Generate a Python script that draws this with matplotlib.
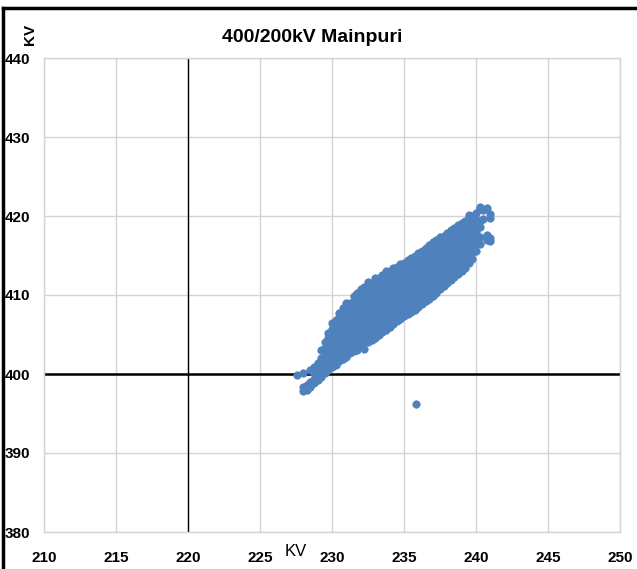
import matplotlib
matplotlib.use("Agg")
import matplotlib.pyplot as plt
from matplotlib.lines import Line2D

plt.rcParams['font.family'] = ['Liberation Sans Narrow', 'Liberation Sans', 'DejaVu Sans']

# Nube de puntos: tension 220 kV (x) vs tension 400 kV (y), leida por columnas
columnas = {
    227.6: [399.9],
    228.0: [397.8, 398.3, 400.1],
    228.25: [398.0, 398.6],
    228.5: [398.4, 399.0, 400.5],
    228.75: [398.8, 399.4, 400.1, 400.9],
    229.0: [399.2, 399.9, 400.7, 401.4],
    229.25: [399.6, 400.4, 401.2, 402.0, 403.1],
    229.5: [400.1, 400.9, 401.7, 402.5, 403.3, 404.0],
    229.75: [400.5, 401.3, 402.1, 402.9, 403.7, 404.5, 405.2],
    230.0: [400.9, 401.7, 402.5, 403.3, 404.1, 404.9, 405.7, 406.5],
    230.25: [401.2, 402.0, 402.8, 403.6, 404.4, 405.2, 406.0, 406.8],
    230.5: [401.6, 402.4, 403.2, 404.0, 404.8, 405.6, 406.4, 407.2, 407.7],
    230.75: [401.9, 402.7, 403.5, 404.3, 405.1, 405.9, 406.7, 407.5, 408.4],
    231.0: [402.2, 403.0, 403.8, 404.6, 405.4, 406.2, 407.0, 407.8, 408.6, 409.0],
    231.25: [402.6, 403.4, 404.2, 405.0, 405.8, 406.6, 407.4, 408.2, 409.0],
    231.5: [402.9, 403.7, 404.5, 405.3, 406.1, 406.9, 407.7, 408.5, 409.3, 409.9],
    231.75: [403.1, 403.9, 404.7, 405.5, 406.3, 407.1, 407.9, 408.7, 409.5, 410.3],
    232.0: [403.5, 404.3, 405.1, 405.9, 406.7, 407.5, 408.3, 409.1, 409.9, 410.7],
    232.25: [403.2, 404.0, 404.8, 405.6, 406.4, 407.2, 408.0, 408.8, 409.6, 410.4, 411.0],
    232.5: [404.0, 404.8, 405.6, 406.4, 407.2, 408.0, 408.8, 409.6, 410.4, 411.2, 411.7],
    232.75: [404.3, 405.1, 405.9, 406.7, 407.5, 408.3, 409.1, 409.9, 410.7, 411.5],
    233.0: [404.6, 405.4, 406.2, 407.0, 407.8, 408.6, 409.4, 410.2, 411.0, 411.8, 412.2],
    233.25: [405.0, 405.8, 406.6, 407.4, 408.2, 409.0, 409.8, 410.6, 411.4, 412.2],
    233.5: [405.3, 406.1, 406.9, 407.7, 408.5, 409.3, 410.1, 410.9, 411.7, 412.5],
    233.75: [405.6, 406.4, 407.2, 408.0, 408.8, 409.6, 410.4, 411.2, 412.0, 412.8, 413.1],
    234.0: [405.9, 406.7, 407.5, 408.3, 409.1, 409.9, 410.7, 411.5, 412.3, 413.1],
    234.25: [406.3, 407.1, 407.9, 408.7, 409.5, 410.3, 411.1, 411.9, 412.7, 413.4],
    234.5: [406.7, 407.5, 408.3, 409.1, 409.9, 410.7, 411.5, 412.3, 413.1, 413.6],
    234.75: [407.0, 407.8, 408.6, 409.4, 410.2, 411.0, 411.8, 412.6, 413.4, 413.9],
    235.0: [407.3, 408.1, 408.9, 409.7, 410.5, 411.3, 412.1, 412.9, 413.7, 414.1],
    235.25: [407.6, 408.4, 409.2, 410.0, 410.8, 411.6, 412.4, 413.2, 414.0, 414.4],
    235.5: [407.9, 408.7, 409.5, 410.3, 411.1, 411.9, 412.7, 413.5, 414.3, 414.7],
    235.75: [408.1, 408.9, 409.7, 410.5, 411.3, 412.1, 412.9, 413.7, 414.5, 415.0],
    236.0: [408.5, 409.3, 410.1, 410.9, 411.7, 412.5, 413.3, 414.1, 414.9, 415.3],
    236.25: [408.8, 409.6, 410.4, 411.2, 412.0, 412.8, 413.6, 414.4, 415.2, 415.6],
    236.5: [409.2, 410.0, 410.8, 411.6, 412.4, 413.2, 414.0, 414.8, 415.6, 416.0],
    236.75: [409.5, 410.3, 411.1, 411.9, 412.7, 413.5, 414.3, 415.1, 415.9, 416.3],
    237.0: [409.9, 410.7, 411.5, 412.3, 413.1, 413.9, 414.7, 415.5, 416.3, 416.7],
    237.25: [410.2, 411.0, 411.8, 412.6, 413.4, 414.2, 415.0, 415.8, 416.6, 417.0],
    237.5: [410.7, 411.5, 412.3, 413.1, 413.9, 414.7, 415.5, 416.3, 417.1, 417.3],
    237.75: [411.1, 411.9, 412.7, 413.5, 414.3, 415.1, 415.9, 416.7, 417.5],
    238.0: [411.5, 412.3, 413.1, 413.9, 414.7, 415.5, 416.3, 417.1, 417.9],
    238.25: [411.9, 412.7, 413.5, 414.3, 415.1, 415.9, 416.7, 417.5, 418.2],
    238.5: [412.3, 413.1, 413.9, 414.7, 415.5, 416.3, 417.1, 417.9, 418.5],
    238.75: [412.6, 413.4, 414.2, 415.0, 415.8, 416.6, 417.4, 418.2, 418.8],
    239.0: [413.0, 413.8, 414.6, 415.4, 416.2, 417.0, 417.8, 418.6, 419.1],
    239.25: [413.4, 414.2, 415.0, 415.8, 416.6, 417.4, 418.2, 419.0, 419.4],
    239.5: [414.1, 414.9, 415.7, 416.5, 417.3, 418.1, 418.9, 419.7, 420.1],
    239.75: [414.5, 415.3, 416.1, 416.9, 417.7, 418.5, 419.3, 420.0],
    240.0: [415.6, 416.4, 417.2, 418.0, 418.8, 419.6, 420.4],
    240.25: [416.4, 417.4, 418.6, 419.4, 420.9, 421.1],
    240.5: [419.6, 420.8],
    240.75: [416.9, 417.6, 421.0],
    241.0: [416.8, 417.2, 419.8, 420.3],
    235.8: [396.2],
}

x_ticks = [210, 215, 220, 225, 230, 235, 240, 245, 250]
y_ticks = [380, 390, 400, 410, 420, 430, 440]

titulo = "400/200kV Mainpuri"
color_puntos = '#4f81bd'

xs, ys = [], []
for xv, lista in columnas.items():
    for yv in lista:
        xs.append(xv)
        ys.append(yv)

fig = plt.figure(figsize=(6.37, 5.69), dpi=100, facecolor='white')
ax = fig.add_axes([44/637, 1 - 532/569, (620 - 44)/637, (532 - 58)/569])

ax.set_xlim(210, 250)
ax.set_ylim(380, 440)
ax.set_xticks(x_ticks)
ax.set_yticks(y_ticks)
ax.grid(True, color='#d4d4d4', linewidth=1.0)
ax.set_axisbelow(True)
for s in ax.spines.values():
    s.set_color('#d4d4d4')
    s.set_linewidth(1.0)

# ejes que cruzan en (220, 400)
ax.axvline(220, color='black', linewidth=1.0, zorder=1.5)
ax.axhline(400, color='black', linewidth=1.8, zorder=1.5)

ax.scatter(xs, ys, s=28, color=color_puntos, edgecolors=color_puntos,
           linewidths=0.6, zorder=3)

ax.tick_params(axis='both', length=0, labelsize=11)
ax.tick_params(axis='x', pad=14)
ax.tick_params(axis='y', pad=10)
for lab in ax.get_xticklabels() + ax.get_yticklabels():
    lab.set_fontweight('bold')

fig.text(312/637, 1 - 38/569, titulo, ha='center', va='center',
         fontsize=14, fontweight='bold')
fig.text(30/637, 1 - 34/569, "KV", rotation=90, ha='center', va='center',
         fontsize=11, fontweight='bold')
fig.text(296/637, 1 - 552/569, "KV", ha='center', va='center', fontsize=12)

# borde negro arriba e izquierda
fig.add_artist(Line2D([3/637, 1], [1 - 8/569, 1 - 8/569], color='black', linewidth=2.5))
fig.add_artist(Line2D([3/637, 3/637], [0, 1 - 8/569], color='black', linewidth=2.5))

fig.savefig("out.png", dpi=100)
